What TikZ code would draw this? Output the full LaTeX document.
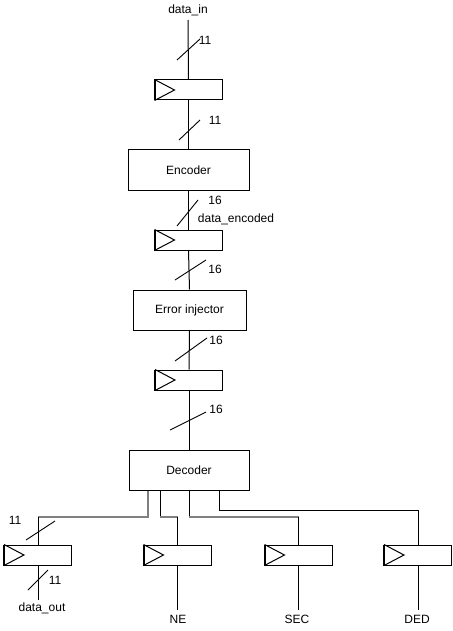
\documentclass[tikz,border=0pt]{standalone}
\usepackage{fontspec}
\setmainfont{Liberation Sans}
\begin{document}
\begin{tikzpicture}[x=1pt,y=-1pt,line width=1pt,
  every node/.style={font=\fontsize{12}{14}\selectfont},
  block/.style={draw,minimum height=40pt,inner sep=0pt},
  reg/.style={draw,minimum width=67pt,minimum height=20pt,inner sep=0pt},
  lbl/.style={inner sep=1pt},
  busline/.style={line width=0.9pt},
  graybus/.style={draw=black!50,line width=1.6pt}]
\useasboundingbox (0,0) rectangle (452,631);
% labels
\node[lbl] (din) at (188,10) {data\_in};
\coordinate (dintop) at (188,20);
% registers
\node[reg] (r1) at (188.5,90) {};
\node[reg] (r2) at (188.5,240) {};
\node[reg] (r3) at (189,380) {};
\node[reg] (rd) at (38,555) {};
\node[reg] (rne) at (177.5,555) {};
\node[reg] (rsec) at (298.5,555) {};
\node[reg] (rded) at (418,555) {};
\foreach \r in {r1,r2,r3,rd,rne,rsec,rded}{
  \draw (\r.north west) -- ([xshift=20pt]\r.west) -- (\r.south west);
  \draw[line width=2pt] (\r.north west) -- (\r.south west);
}
% blocks
\node[block,minimum width=121pt] (enc) at (188.5,170) {Encoder};
\node[block,minimum width=113pt] (inj) at (189.5,310) {Error injector};
\node[block,minimum width=120pt] (dec) at (189,470) {Decoder};
% main chain
\draw (dintop) -- (r1.north);
\draw (r1.south) -- (enc.north);
\draw (enc.south) -- (r2.north);
\draw (r2.south) -- (inj.north);
\draw (inj.south) -- (r3.north);
\draw (r3.south) -- (dec.north);
% bus slashes
\draw[busline] (177,60) -- (200,39);
\node[lbl] (l1) at (205,40) {11};
\draw[busline] (179,140) -- (200,120);
\node[lbl] (l2) at (215,120) {11};
\draw[busline] (177,226) -- (198,200);
\node[lbl] (l3) at (215,200) {16};
\node[lbl] (denc) at (236,219) {data\_encoded};
\draw[busline] (175,280) -- (206,260);
\node[lbl] (l4) at (215,269) {16};
\draw[busline] (175,361) -- (207,338);
\node[lbl] (l5) at (216,340) {16};
\draw[busline] (170,430) -- (206,412);
\node[lbl] (l6) at (216,409) {16};
% decoder outputs
\coordinate (j1) at (38,517);
\coordinate (j2a) at (160,517);
\coordinate (j2) at (177.5,517);
\coordinate (j3a) at (189,517);
\coordinate (j3) at (298.5,517);
\coordinate (j4) at (418,510);
\draw[graybus] ([xshift=-41pt]dec.south) |- (j1);
\draw (j1) -- (rd.north);
\draw ([xshift=-29pt]dec.south) -- (j2a);
\draw[graybus] (j2a) -- (j2);
\draw (j2) -- (rne.north);
\draw (dec.south) -- (j3a);
\draw[graybus] (j3a) -- (j3);
\draw (j3) -- (rsec.north);
\draw ([xshift=30pt]dec.south) |- (j4) -- (rded.north);
\draw[busline] (26,540) -- (55,521);
\node[lbl] (l7) at (15,520) {11};
% outputs
\coordinate (e1) at (38,600);
\coordinate (e2) at (177.5,610);
\coordinate (e3) at (298.5,610);
\coordinate (e4) at (418,610);
\draw (rd.south) -- (e1);
\draw (rne.south) -- (e2);
\draw (rsec.south) -- (e3);
\draw (rded.south) -- (e4);
\draw[busline] (28,590) -- (48,570);
\node[lbl] (l8) at (55,580) {11};
\node[lbl] (dout) at (42,608) {data\_out};
\node[lbl] (ne) at (178,619) {NE};
\node[lbl] (sec) at (297,619) {SEC};
\node[lbl] (ded) at (417,619) {DED};
\end{tikzpicture}
\end{document}
